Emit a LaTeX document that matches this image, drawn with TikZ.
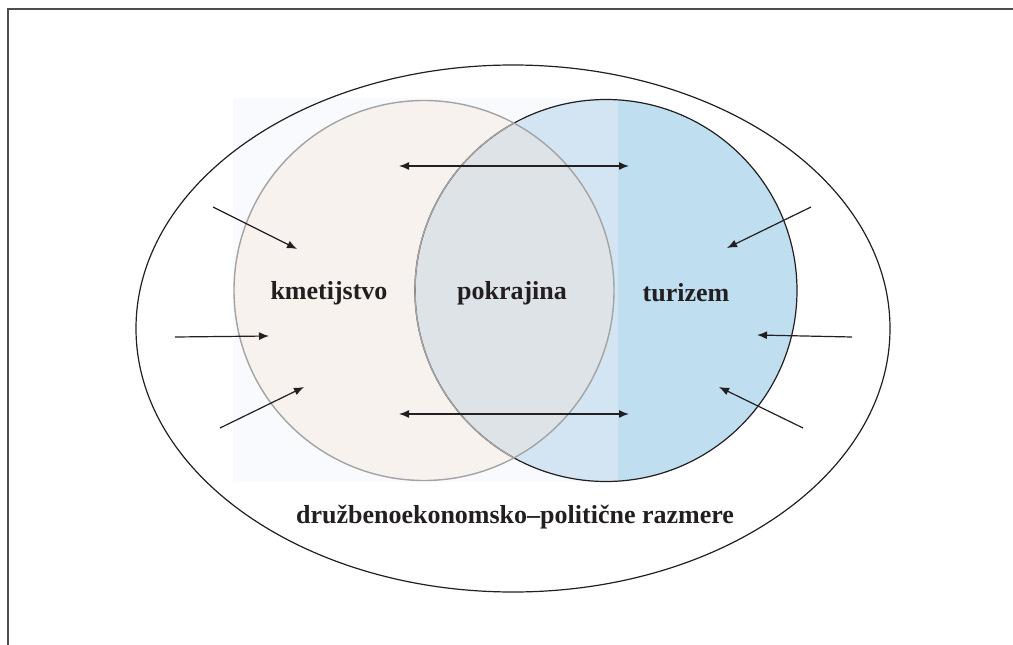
\documentclass[tikz,border=0pt]{standalone}
\usepackage{fontspec}
\setmainfont{Liberation Serif}
\usetikzlibrary{arrows.meta}
\definecolor{ink}{HTML}{231F20}
\definecolor{rectbg}{HTML}{F8FAFD}
\definecolor{blueA}{HTML}{BFDEF0}
\definecolor{blueB}{HTML}{D3E5F2}
\definecolor{beige}{HTML}{F7F2EE}
\definecolor{inter}{HTML}{DEE3E8}
\definecolor{circgray}{HTML}{A3A3A3}
\definecolor{framegray}{HTML}{4D4D4D}
\begin{document}
\begin{tikzpicture}[x=1pt,y=-1pt,
  lbl/.style={font=\fontsize{26}{30}\selectfont\bfseries, text=ink, inner sep=0pt},
  arr/.style={draw=ink, line width=1.2pt, -{Latex[length=10pt,width=8pt]}},
  darr/.style={draw=ink, line width=1.4pt, {Latex[length=10pt,width=8pt]}-{Latex[length=10pt,width=8pt]}},
  framel/.style={draw=framegray, line width=1.5pt}]
\useasboundingbox (0,0) rectangle (1013,645);
% frame
\draw[framel] (7,9) -- (1013,9);
\draw[framel] (8,9) -- (8,645);
% faint backdrop
\fill[rectbg] (233,98) rectangle (618,482);
% right circle
\fill[blueA] (606,290.5) circle[radius=191pt];
\begin{scope}
  \clip (233,98) rectangle (618,482);
  \fill[blueB] (606,290.5) circle[radius=191pt];
\end{scope}
% left circle
\fill[beige] (424,290.5) circle[radius=190pt];
\begin{scope}
  \clip (606,290.5) circle[radius=191pt];
  \fill[inter] (424,290.5) circle[radius=190pt];
\end{scope}
\draw[ink, line width=1.2pt] (606,290.5) circle[radius=191pt];
\begin{scope}
  \clip (424,290.5) circle[radius=190pt];
  \draw[circgray, line width=1.4pt] (606,290.5) circle[radius=191pt];
\end{scope}
\draw[circgray, line width=1.4pt] (424,290.5) circle[radius=190pt];
% outer ellipse
\draw[ink, line width=1.2pt] (513,328.5) ellipse[x radius=377pt, y radius=263.5pt];
% labels
\node[lbl] (kmet) at (329,293) {kmetijstvo};
\node[lbl] (pokr) at (512,293) {pokrajina};
\node[lbl] (turi) at (686,293) {turizem};
\node[lbl] (druz) at (515,517) {družbenoekonomsko–politične razmere};
% double arrows
\coordinate (t1) at (399,166);
\coordinate (t2) at (629,166);
\coordinate (b1) at (399,414);
\coordinate (b2) at (629,414);
\draw[darr] (t1) -- (t2);
\draw[darr] (b1) -- (b2);
% left arrows
\coordinate (la1) at (213,207);
\coordinate (la2) at (297,249);
\coordinate (lb1) at (175,337);
\coordinate (lb2) at (269,336);
\coordinate (lc1) at (220,428);
\coordinate (lc2) at (304,387);
\draw[arr] (la1) -- (la2);
\draw[arr] (lb1) -- (lb2);
\draw[arr] (lc1) -- (lc2);
% right arrows
\coordinate (ra1) at (811,207);
\coordinate (ra2) at (727,248);
\coordinate (rb1) at (852,337);
\coordinate (rb2) at (757,335);
\coordinate (rc1) at (803,428);
\coordinate (rc2) at (719,387);
\draw[arr] (ra1) -- (ra2);
\draw[arr] (rb1) -- (rb2);
\draw[arr] (rc1) -- (rc2);
\end{tikzpicture}
\end{document}
